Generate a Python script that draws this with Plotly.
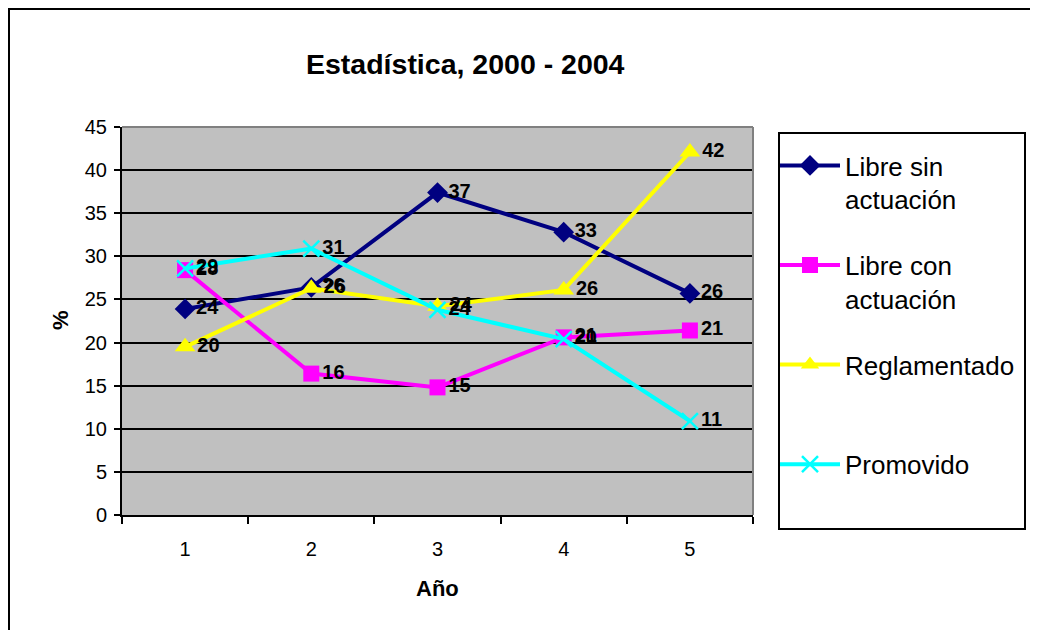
import plotly.graph_objects as go

# data
anios = [1, 2, 3, 4, 5]
libre_sin = [23.9, 26.4, 37.4, 32.8, 25.7]
libre_con = [28.4, 16.4, 14.8, 20.6, 21.4]
reglamentado = [19.5, 26.3, 24.2, 26.1, 42.1]
promovido = [28.6, 30.9, 23.8, 20.4, 10.9]

series = [
    ("Libre sin<br>actuación", libre_sin, "#000080", "diamond", 16),
    ("Libre con<br>actuación", libre_con, "#FF00FF", "square", 16),
    ("Reglamentado<br>&nbsp;", reglamentado, "#FFFF00", "triangle-up", 18),
    ("Promovido<br>&nbsp;", promovido, "#00FFFF", "x-thin", 16),
]

FONT = "Arial, Liberation Sans, sans-serif"

# the page body adds 8px, so work in window pixels minus that offset
OFF = 8
W, H = 1030, 622
L, T = 122 - OFF, 127 - OFF
R = W - (753 - OFF)
B = H - (515 - OFF)
pw, ph = W - L - R, H - T - B


def px(x):
    return (x - OFF - L) / pw


def py(y):
    return (H - B - (y - OFF)) / ph


fig = go.Figure()

for i, (name, vals, color, sym, size) in enumerate(series):
    marker = dict(symbol=sym, size=size, color=color)
    if sym == "x-thin":
        marker["line"] = dict(color=color, width=2.5)
    fig.add_trace(go.Scatter(
        x=anios, y=vals,
        mode="lines+markers+text",
        name=name,
        legendgroup="g%d" % i,
        line=dict(color=color, width=4),
        marker=marker,
        texttemplate="%{y:.0f}",
        textposition="middle right",
        textfont=dict(family=FONT, size=20, color="black", weight="bold"),
        cliponaxis=False,
    ))

shapes = [
    # chart area border (only left/top fall inside the picture)
    dict(type="rect", xref="paper", yref="paper",
         x0=px(9), x1=px(1070), y0=py(680), y1=py(9),
         line=dict(color="black", width=2), layer="below"),
    # gray top/right border of plot area
    dict(type="line", xref="paper", yref="paper", x0=0, x1=1, y0=1, y1=1,
         line=dict(color="#808080", width=2)),
    dict(type="line", xref="paper", yref="paper", x0=1, x1=1, y0=0, y1=1,
         line=dict(color="#808080", width=2)),
    # legend box
    dict(type="rect", xref="paper", yref="paper",
         x0=px(779), x1=px(1025), y0=py(529), y1=py(133),
         line=dict(color="black", width=2), fillcolor="white", layer="below"),
]

annotations = [
    dict(text="<b>Estadística, 2000 - 2004</b>", xref="paper", yref="paper",
         x=px(465), y=py(64), xanchor="center", yanchor="middle", showarrow=False,
         font=dict(family=FONT, size=28.5, color="black")),
    dict(text="<b>Año</b>", xref="paper", yref="paper",
         x=px(437), y=py(588), xanchor="center", yanchor="middle", showarrow=False,
         font=dict(family=FONT, size=22, color="black")),
    dict(text="<b>%</b>", xref="paper", yref="paper",
         x=px(60), y=py(320), xanchor="center", yanchor="middle", showarrow=False,
         textangle=-90, font=dict(family=FONT, size=22, color="black")),
]

fig.update_layout(
    width=W, height=H,
    margin=dict(l=L, r=R, t=T, b=B),
    paper_bgcolor="white",
    plot_bgcolor="#C0C0C0",
    font=dict(family=FONT, color="black"),
    shapes=shapes,
    annotations=annotations,
    legend=dict(
        x=px(775), y=py(142), xanchor="left", yanchor="top",
        bgcolor="rgba(0,0,0,0)", borderwidth=0,
        font=dict(family=FONT, size=26, color="black"),
        itemwidth=60, valign="top",
        tracegroupgap=29, traceorder="grouped",
    ),
    xaxis=dict(
        range=[0.5, 5.5], tickmode="array", tickvals=anios,
        ticktext=[str(a) for a in anios],
        showgrid=False, zeroline=False,
        showline=True, linecolor="black", linewidth=2,
        ticks="", ticklabelstandoff=15,
        tickfont=dict(family=FONT, size=20),
        minor=dict(tickmode="linear", tick0=0.5, dtick=1, ticks="outside",
                   ticklen=7, tickwidth=2, tickcolor="black", showgrid=False),
    ),
    yaxis=dict(
        range=[0, 45], tickmode="linear", tick0=0, dtick=5,
        showgrid=True, gridcolor="black", gridwidth=1.5,
        zeroline=False,
        showline=True, linecolor="black", linewidth=2,
        ticks="outside", ticklen=6, tickwidth=2, tickcolor="black",
        ticklabelstandoff=3,
        tickfont=dict(family=FONT, size=20),
    ),
)

fig.write_html("out.html")
